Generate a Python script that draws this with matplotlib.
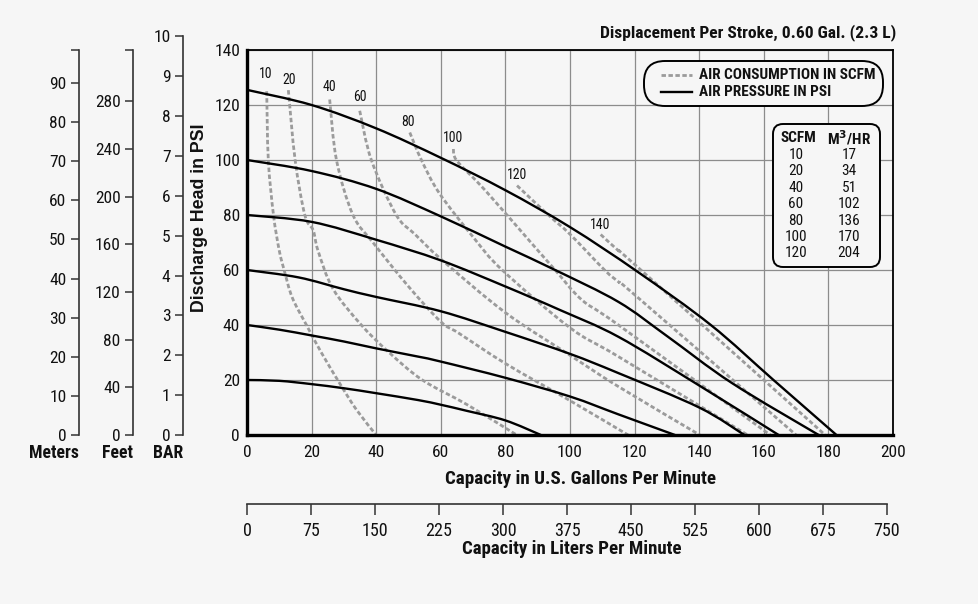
import matplotlib
matplotlib.use('Agg')
import matplotlib.pyplot as plt
import matplotlib.font_manager as fm
from matplotlib.patches import FancyBboxPatch, PathPatch
from matplotlib.path import Path
from matplotlib.lines import Line2D
from matplotlib.transforms import IdentityTransform
import numpy as np

# narrow sans like the original, first one that is installed
have = set(f.name for f in fm.fontManager.ttflist)
narrow = [n for n in ['Liberation Sans Narrow', 'Arial Narrow', 'Roboto Condensed',
                      'Archivo Narrow', 'PT Sans Narrow'] if n in have]
plt.rcParams['font.family'] = narrow[:1] + ['Liberation Sans', 'DejaVu Sans']

# air pressure curves (PSI), x = US gpm, y = discharge head psi
p20_x = [0, 10, 20, 30, 40, 53, 60, 68, 80, 91]
p20_y = [20, 19.7, 18.5, 17, 15.2, 12.7, 11, 8.8, 5.3, 0]
p40_x = [0, 10, 20, 30, 40, 53, 60, 80, 100, 115, 132.5]
p40_y = [40, 38.3, 36.2, 34, 31.5, 28.5, 26.7, 20.8, 14, 7.5, 0]
p60_x = [0, 16, 30, 40, 60, 80, 100, 115, 140, 154]
p60_y = [60, 57.3, 53, 50.2, 45, 37.5, 29.5, 22.5, 10, 0]
p80_x = [0, 20, 40, 60, 80, 97, 115, 140, 164.6]
p80_y = [80, 77.5, 71, 63.5, 54, 45.4, 35.7, 18, 0]
p100_x = [0, 20, 40, 60, 80, 95.4, 115, 130, 150, 177]
p100_y = [100, 96, 89.5, 79.5, 68.5, 60, 48.4, 36, 19, 0]
p125_x = [0, 20, 40, 60, 80, 100, 121, 143.6, 163, 182.5]
p125_y = [125.5, 120, 111.5, 100.8, 89, 75.6, 59.3, 40, 20, 0]

# air consumption curves (SCFM)
s10_x = [6.1, 6.6, 8.2, 10, 11.5, 14, 18.4, 23, 29, 34, 40]
s10_y = [125, 100, 80, 67, 60, 50, 40, 30, 18.2, 9, 0]
s20_x = [12.8, 14.9, 17.9, 20.5, 22, 26.6, 35.4, 44, 54.3, 68.2, 83.5]
s20_y = [125.4, 100, 80, 74.4, 67, 53.2, 40, 30, 20, 11, 0]
s40_x = [25.6, 27.7, 32.8, 39, 50, 60, 65.6, 80, 100, 118]
s40_y = [122, 100, 80, 70, 54, 41.2, 37, 26, 12.5, 0]
s60_x = [34.9, 38.5, 46.2, 52, 60.5, 80, 100, 115, 140.2]
s60_y = [117.9, 100, 80, 73, 63.5, 44.5, 29, 17.6, 0]
s80_x = [50.4, 54, 59.5, 70, 79, 100, 115, 155]
s80_y = [110, 100, 88, 72, 60, 39, 28.5, 0]
s100_x = [63.9, 65, 73.8, 88.2, 95.4, 103.6, 115, 162]
s100_y = [104, 99.7, 88.9, 69.6, 60, 49.2, 40, 0]
s120_x = [83.6, 93.3, 100, 110.7, 115, 121, 170]
s120_y = [90.7, 80, 73, 60, 55.7, 50, 0]
s140_x = [109.5, 115, 121, 179]
s140_y = [72.9, 67, 61, 0]

scfm_labels = ['10', '20', '40', '60', '80', '100', '120', '140']
scfm_label_x = [5.9, 13.0, 25.6, 34.9, 49.7, 63.9, 83.7, 109.3]
scfm_label_y = [131.3, 129.1, 126.5, 122.8, 113.9, 108.0, 94.4, 76.5]

table_scfm = ['10', '20', '40', '60', '80', '100', '120']
table_m3hr = ['17', '34', '51', '102', '136', '170', '204']

# unit conversions for the side scales
PSI_TO_M = 0.7031
PSI_TO_FT = 2.307
PSI_TO_BAR = 1 / 14.5
GPM_TO_LPM = 3.785

bg = '#f6f6f6'
grey = '#9b9b9b'
ink = '#111111'
W, H = 979, 604
fig = plt.figure(figsize=(W / 100, H / 100), dpi=100, facecolor=bg)
px = IdentityTransform()   # figure pixels from the bottom left

def frac(x0, y_top, w, h):
    return [x0 / W, 1 - (y_top + h) / H, w / W, h / H]

def smooth(xs, ys):
    # catmull-rom through the read points, drawn as bezier segments
    p = np.column_stack([xs, ys]).astype(float)
    verts, codes = [p[0]], [Path.MOVETO]
    for i in range(len(p) - 1):
        p0 = p[i - 1] if i > 0 else p[i]
        p3 = p[i + 2] if i + 2 < len(p) else p[i + 1]
        verts += [p[i] + (p[i + 1] - p0) / 6, p[i + 1] - (p3 - p[i]) / 6, p[i + 1]]
        codes += [Path.CURVE4] * 3
    return Path(verts, codes)

ax = fig.add_axes(frac(247, 50, 646, 385))
ax.set_facecolor(bg)
ax.set_xlim(0, 200)
ax.set_ylim(0, 140)
ax.set_xticks(range(0, 201, 20))
ax.set_yticks(range(0, 141, 20))
ax.grid(True, color='#8c8c8c', lw=0.9)
ax.set_axisbelow(True)
ax.tick_params(length=0, labelsize=12.5, colors=ink)
ax.tick_params(axis='y', pad=5)
ax.tick_params(axis='x', pad=7)
for s in ['left', 'bottom']:
    ax.spines[s].set_linewidth(2.4)
for s in ['top', 'right']:
    ax.spines[s].set_linewidth(1.3)

for xs, ys in [(s10_x, s10_y), (s20_x, s20_y), (s40_x, s40_y), (s60_x, s60_y),
               (s80_x, s80_y), (s100_x, s100_y), (s120_x, s120_y), (s140_x, s140_y)]:
    ax.add_patch(PathPatch(smooth(xs, ys), fill=False, edgecolor=grey, lw=2.0,
                           ls=(0, (1.6, 0.9))))
for xs, ys in [(p20_x, p20_y), (p40_x, p40_y), (p60_x, p60_y),
               (p80_x, p80_y), (p100_x, p100_y), (p125_x, p125_y)]:
    ax.add_patch(PathPatch(smooth(xs, ys), fill=False, edgecolor='black', lw=1.7))

for t, x, y in zip(scfm_labels, scfm_label_x, scfm_label_y):
    ax.text(x, y, t, fontsize=10, ha='center', va='center', color=ink)

fig.text(581 / W, 1 - 479 / H, 'Capacity in U.S. Gallons Per Minute', fontsize=13.7,
         fontweight='bold', ha='center', va='center', color=ink)
fig.text(200 / W, 1 - 218 / H, 'Discharge Head in PSI', rotation=90,
         family=['Liberation Sans', 'DejaVu Sans'],
         fontsize=12.8, fontweight='bold', ha='center', va='center', color=ink)
fig.text(896 / W, 1 - 33 / H, 'Displacement Per Stroke, 0.60 Gal. (2.3 L)',
         fontsize=12.6, fontweight='bold', ha='right', va='center', color=ink)

# legend box
fig.add_artist(FancyBboxPatch((644, H - 106), 239, 45, transform=px,
                              boxstyle='round,pad=0,rounding_size=21',
                              facecolor=bg, edgecolor='black', lw=1.4))
fig.add_artist(Line2D([661, 692], [H - 75] * 2, transform=px, color=grey, lw=2,
                      ls=(0, (1.6, 0.9))))
fig.add_artist(Line2D([661, 692], [H - 91.5] * 2, transform=px, color='black', lw=1.7))
fig.text(699 / W, 1 - 75 / H, 'AIR CONSUMPTION IN SCFM', fontsize=11.0,
         fontweight='bold', va='center', color=ink)
fig.text(699 / W, 1 - 92.5 / H, 'AIR PRESSURE IN PSI', fontsize=11.0,
         fontweight='bold', va='center', color=ink)

# conversion table box
fig.add_artist(FancyBboxPatch((773, H - 267), 107, 143, transform=px,
                              boxstyle='round,pad=0,rounding_size=10',
                              facecolor=bg, edgecolor='black', lw=1.4))
fig.text(798 / W, 1 - 138.5 / H, 'SCFM', fontsize=11, fontweight='bold',
         ha='center', va='center', color=ink)
fig.text(849 / W, 1 - 138.5 / H, 'M$^\\mathbf{3}$/HR', fontsize=11, fontweight='bold',
         ha='center', va='center', color=ink)
for i, (a, b) in enumerate(zip(table_scfm, table_m3hr)):
    yy = 1 - (155 + i * 16.4) / H
    fig.text(796 / W, yy, a, fontsize=11, ha='center', va='center', color=ink)
    fig.text(849 / W, yy, b, fontsize=11, ha='center', va='center', color=ink)

# side scales: meters, feet, bar
def side_axis(xpos, top_psi, conv, ticks, name):
    h = top_psi * 2.75
    a = fig.add_axes(frac(xpos, 435 - h, 0.5, h))
    a.set_ylim(0, top_psi * conv)
    a.patch.set_visible(False)
    for s in ['top', 'right', 'bottom']:
        a.spines[s].set_visible(False)
    a.spines['left'].set_linewidth(1.2)
    a.spines['left'].set_color('#333333')
    a.set_xticks([])
    a.set_yticks(ticks)
    a.set_yticks([top_psi * conv], minor=True)
    a.tick_params(axis='y', which='both', length=6, width=1.1, color='#333333',
                  labelsize=12.5, pad=3, labelcolor=ink)
    fig.text(xpos / W, 1 - 453 / H, name, fontsize=12.8, fontweight='bold',
             ha='right', va='center', color=ink)

side_axis(79, 140, PSI_TO_M, range(0, 91, 10), 'Meters')
side_axis(133, 140, PSI_TO_FT, range(0, 281, 40), 'Feet')
side_axis(183, 10 / PSI_TO_BAR, PSI_TO_BAR, range(0, 11), 'BAR')

# liters per minute scale
lx = fig.add_axes(frac(247, 503, 646, 0.5))
lx.patch.set_visible(False)
lx.set_xlim(0, 200 * GPM_TO_LPM)
for s in ['top', 'right', 'left']:
    lx.spines[s].set_visible(False)
lx.spines['bottom'].set_bounds(0, 750)
lx.spines['bottom'].set_linewidth(1.2)
lx.spines['bottom'].set_color('#333333')
lx.set_yticks([])
lx.set_xticks(range(0, 751, 75))
lx.tick_params(axis='x', length=8, width=1.1, color='#333333', labelsize=13,
               pad=5, labelcolor=ink)
fig.text(572 / W, 1 - 549 / H, 'Capacity in Liters Per Minute', fontsize=13.6,
         fontweight='bold', ha='center', va='center', color=ink)

fig.savefig('out.png', dpi=100, facecolor=bg)
